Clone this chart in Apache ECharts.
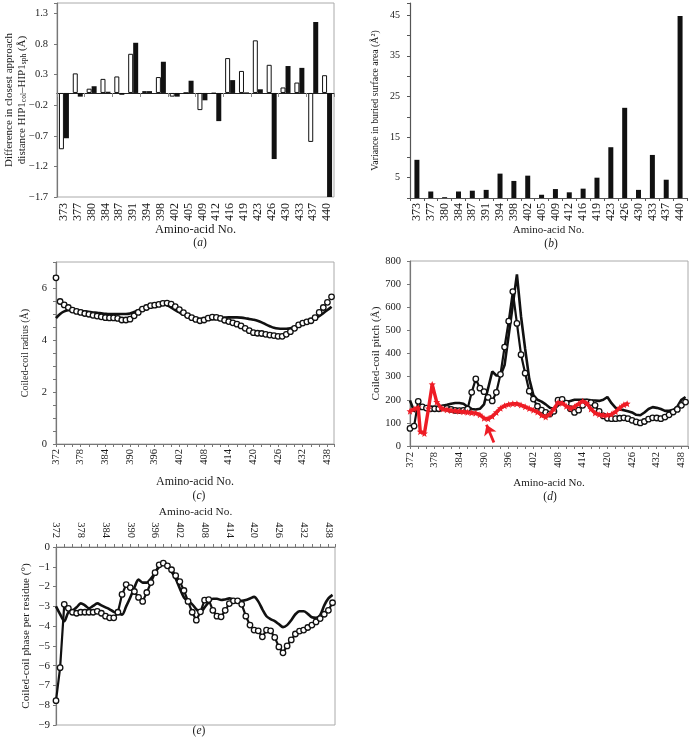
<!DOCTYPE html>
<html><head><meta charset="utf-8">
<script src="https://cdn.jsdelivr.net/npm/echarts@6/dist/echarts.min.js"></script>
<style>html,body{margin:0;padding:0;background:#fff}#c{width:693px;height:741px}</style>
</head><body><div id="c"></div>
<script>
// ---------- data ----------
const catsAB = ['373','377','380','384','387','391','394','398','402','405','409','412','416','419','423','426','430','433','437','440'];
const diffWhite = [-0.92,0.32,0.07,0.23,0.27,0.64,0.03,0.26,-0.06,0,-0.28,-0.01,0.57,0.36,0.86,0.46,0.09,0.17,-0.80,0.29];
const diffBlack = [-0.74,-0.06,0.11,0.02,-0.03,0.82,0.03,0.51,-0.06,0.20,-0.12,-0.46,0.21,0.01,0.06,-1.08,0.44,0.41,1.16,-1.70];
const variance = [9.4,1.6,0.2,1.6,1.8,2.0,6.0,4.2,5.5,0.8,2.2,1.4,2.3,5.0,12.5,22.2,2.0,10.6,4.5,44.8];

const residues = [372,373,374,375,376,377,378,379,380,381,382,383,384,385,386,387,388,389,390,391,392,393,394,395,396,397,398,399,400,401,402,403,404,405,406,407,408,409,410,411,412,413,414,415,416,417,418,419,420,421,422,423,424,425,426,427,428,429,430,431,432,433,434,435,436,437,438,439];

const radiusLine = [4.84,5.0,5.1,5.15,5.15,5.13,5.12,5.1,5.08,5.06,
  5.05,5.03,5.01,5.0,5.0,5.0,5.0,5.0,5.02,5.08,
  5.15,5.2,5.25,5.3,5.34,5.37,5.38,5.33,5.25,5.15,
  5.06,4.98,4.92,4.87,4.83,4.8,4.79,4.79,4.8,4.82,
  4.84,4.86,4.87,4.87,4.87,4.86,4.84,4.81,4.78,4.74,
  4.68,4.6,4.53,4.47,4.44,4.43,4.43,4.45,4.5,4.57,
  4.64,4.69,4.75,4.82,4.92,5.03,5.15,5.28];
const radiusCircles = [6.39,5.48,5.35,5.25,5.15,5.10,5.06,5.02,4.99,4.95,
  4.92,4.89,4.86,4.85,4.85,4.83,4.77,4.77,4.80,4.93,
  5.06,5.19,5.25,5.32,5.34,5.37,5.41,5.42,5.38,5.28,
  5.17,5.05,4.94,4.86,4.79,4.74,4.77,4.84,4.88,4.87,
  4.83,4.76,4.71,4.66,4.61,4.54,4.45,4.36,4.28,4.26,
  4.25,4.22,4.19,4.17,4.14,4.14,4.22,4.32,4.45,4.58,
  4.65,4.70,4.74,4.86,5.06,5.25,5.45,5.66];

const pitchLine = [197,150,158,165,167,168,168,170,174,178,
  183,186,186,183,170,160,158,161,180,250,
  322,305,305,350,480,610,742,560,420,290,
  220,200,192,180,165,160,175,188,190,195,
  200,200,200,200,198,197,195,200,212,185,
  165,158,155,150,145,135,133,145,160,168,
  165,160,152,152,155,170,200,212];
const pitchCircles = [76,86,193,169,164,161,161,161,165,163,
  158,154,153,154,160,232,290,250,235,210,
  195,232,310,428,540,668,530,395,315,237,
  203,172,155,145,138,150,198,202,185,161,
  145,155,176,190,188,176,150,130,120,118,
  118,120,122,118,111,104,100,106,116,122,
  121,118,125,135,147,158,176,190];
const redX = [372,373,374,374.5,375.5,376.5,377.4,378.5,379.5,
  380,381,382,383,384,385,386,387,388,389,
  390,391,392,393,394,395,396,397,398,399,
  400,401,402,403,404,405,406,407,408,409,
  410,411,412,413,414,415,416,417,418,419,
  420,421,422,423,424,424.8];
const redY = [150,160,166,62,54,162,266,190,165,
  160,157,154,152,150,148,146,144,142,135,
  120,118,128,145,163,174,180,183,183,177,
  170,162,155,147,133,125,138,160,188,185,
  172,162,170,182,194,184,160,143,136,133,
  134,137,148,165,178,183];
const arrowFrom = [392.4, 15];
const arrowTo = [390.6, 92];

const phaseLine = [-3.0,-3.4,-3.75,-3.3,-3.22,-3.05,-2.85,-2.95,-3.1,-2.98,
  -2.85,-2.95,-3.05,-3.15,-3.28,-3.35,-3.42,-3.0,-2.55,-2.05,
  -1.65,-1.8,-1.8,-1.6,-1.3,-1.0,-0.75,-0.95,-1.25,-1.6,
  -2.1,-2.55,-2.75,-2.9,-3.15,-3.3,-3.05,-2.8,-2.62,-2.62,
  -2.68,-2.65,-2.6,-2.65,-2.72,-2.72,-2.68,-2.6,-2.52,-2.75,
  -3.15,-3.5,-3.65,-3.75,-3.9,-4.05,-3.95,-3.7,-3.4,-3.25,
  -3.25,-3.38,-3.55,-3.58,-3.45,-2.95,-2.6,-2.42];
const phaseCircles = [-7.77,-6.1,-2.9,-3.1,-3.3,-3.35,-3.3,-3.3,-3.3,-3.3,
  -3.25,-3.35,-3.5,-3.58,-3.58,-3.3,-2.4,-1.9,-2.05,-2.25,
  -2.55,-2.75,-2.3,-1.8,-1.3,-0.9,-0.82,-0.95,-1.15,-1.45,
  -1.75,-2.2,-2.75,-3.3,-3.7,-3.28,-2.69,-2.66,-3.2,-3.5,
  -3.53,-3.2,-2.86,-2.72,-2.72,-2.9,-3.5,-3.95,-4.2,-4.24,
  -4.54,-4.2,-4.24,-4.57,-5.05,-5.35,-5.0,-4.7,-4.4,-4.25,
  -4.2,-4.07,-3.95,-3.79,-3.62,-3.4,-3.2,-2.82];

// ---------- style ----------
const FONT = 'Liberation Serif';
const TXT = '#1a1a1a';
const AX = '#777';
const BOX = '#aaa';
const pairs = (xs, ys) => ys.map((v, i) => [xs[i], v]);
const minus = v => (v < 0 ? '\u2212' : '') + Math.abs(v);
const ns = size => ({fontFamily: FONT, fontSize: size, color: TXT});
const tickLabel = (extra) => Object.assign({fontFamily: FONT, fontSize: 10.5, color: TXT}, extra || {});

function resAxis(gridIndex, position, nameGap, nameSize, labelMargin) {
  return {
    type: 'value', gridIndex, position, min: 372, max: 439.6, interval: 6,
    axisLine: {show: true, onZero: false, lineStyle: {color: AX, width: 1.2}},
    axisTick: {show: true, length: 3, lineStyle: {color: AX}},
    minorTick: {show: true, splitNumber: 3, length: 3, lineStyle: {color: AX}},
    splitLine: {show: false},
    axisLabel: tickLabel({rotate: 90, margin: labelMargin, showMaxLabel: false, fontSize: 10.5,
      formatter: v => ((v - 372) % 6 === 0 ? String(v) : '')}),
    name: 'Amino-acid No.', nameLocation: 'middle', nameGap, nameMoveOverlap: false, nameTextStyle: ns(nameSize)
  };
}
function valAxis(gridIndex, min, max, interval, name, nameGap, nameSize, formatter, labelSize, labelMargin, extra) {
  return Object.assign({
    type: 'value', gridIndex, min, max, interval,
    axisLine: {show: true, onZero: false, lineStyle: {color: AX, width: 1.2}},
    axisTick: {show: true, length: 3, lineStyle: {color: AX}},
    splitLine: {show: false},
    axisLabel: tickLabel({margin: labelMargin, fontSize: labelSize, formatter, showMaxLabel: true, showMinLabel: true}),
    name, nameLocation: 'middle', nameRotate: 90, nameGap, nameMoveOverlap: false, nameTextStyle: ns(nameSize)
  }, extra || {});
}
const star = 'path://M5,0L6.3,3.4L10,3.6L7.1,6L8.1,10L5,7.8L1.9,10L2.9,6L0,3.6L3.7,3.4Z';

const option = {
  animation: false,
  backgroundColor: '#fff',
  grid: [
    {left: 57, top: 3, width: 277, height: 194, show: true, borderColor: BOX, borderWidth: 1, containLabel: false, outerBoundsMode: 'none'},
    {left: 410, top: 3, width: 277, height: 195, show: false, containLabel: false, outerBoundsMode: 'none'},
    {left: 56, top: 262, width: 278, height: 182, show: true, borderColor: BOX, borderWidth: 1, containLabel: false, outerBoundsMode: 'none'},
    {left: 410, top: 261, width: 278, height: 185, show: true, borderColor: BOX, borderWidth: 1, containLabel: false, outerBoundsMode: 'none'},
    {left: 56, top: 547, width: 279, height: 178, show: true, borderColor: BOX, borderWidth: 1, containLabel: false, outerBoundsMode: 'none'}
  ],
  xAxis: [
    {type: 'category', gridIndex: 0, position: 'bottom', data: catsAB,
      axisLine: {show: false, onZero: false}, axisTick: {show: false},
      axisLabel: tickLabel({rotate: 90, margin: 6, fontSize: 12, interval: 0}),
      name: 'Amino-acid No.', nameLocation: 'middle', nameGap: 26, nameMoveOverlap: false, nameTextStyle: ns(12.5)},
    {type: 'category', gridIndex: 0, position: 'top', data: catsAB,
      axisLine: {show: true, onZero: true, lineStyle: {color: '#222', width: 1.2}},
      axisTick: {show: true, inside: true, length: 4, lineStyle: {color: '#888'}},
      axisLabel: {show: false}},
    {type: 'category', gridIndex: 1, position: 'bottom', data: catsAB,
      axisLine: {show: true, onZero: false, lineStyle: {color: '#555', width: 1.2}},
      axisTick: {show: true, length: 3, lineStyle: {color: '#555'}},
      axisLabel: tickLabel({rotate: 90, margin: 5, fontSize: 12, interval: 0}),
      name: 'Amino-acid No.', nameLocation: 'middle', nameGap: 27, nameMoveOverlap: false, nameTextStyle: ns(11)},
    resAxis(2, 'bottom', 32, 12, 5),
    resAxis(3, 'bottom', 31.5, 11, 6),
    resAxis(4, 'top', 29, 11.3, 9)
  ],
  yAxis: [
    valAxis(0, -1.7, 1.47, 0.5,
      '{n|Difference in closest approach}\n{n|distance HIP1}{s|col}{n|\u2013HIP1}{s|sph}{n| (\u00c5)}', 28.5, 11,
      v => (v > 1.4 ? '' : (v < 0 ? '\u2212' : '') + Math.abs(v).toFixed(1)), 10.5, 9,
      {nameTextStyle: {fontFamily: FONT, fontSize: 11, color: TXT, lineHeight: 13,
         rich: {n: {fontFamily: FONT, fontSize: 11, color: TXT, lineHeight: 13},
                s: {fontFamily: FONT, fontSize: 7.5, color: TXT, verticalAlign: 'bottom', lineHeight: 13}}}}),
    valAxis(1, 0, 48, 5, 'Variance in buried surface area (\u00c5\u00b2)', 30, 9.8,
      v => (v % 10 === 5 ? String(v) : ''), 10, 10,
      {axisLine: {show: true, onZero: false, lineStyle: {color: '#555', width: 1.2}},
       axisTick: {show: true, length: 3, lineStyle: {color: '#555'}}}),
    valAxis(2, 0, 7, 1, 'Coiled-coil radius (\u00c5)', 25.3, 10,
      v => (v % 2 === 0 && v < 7 ? String(v) : ''), 10.5, 9,
      {minorTick: {show: true, splitNumber: 2, length: 3, lineStyle: {color: AX}}}),
    valAxis(3, 0, 800, 100, 'Coiled-coil pitch (\u00c5)', 28.6, 11.2, v => String(v), 10.5, 9),
    valAxis(4, -9, 0, 1, 'Coiled-coil phase per residue (\u00b0)', 24.2, 11.2, v => minus(v), 11, 6)
  ],
  series: [
    {name: 'white', type: 'bar', xAxisIndex: 0, yAxisIndex: 0, data: diffWhite, barWidth: 5, barGap: '0%',
      itemStyle: {color: '#fff', borderColor: '#111', borderWidth: 1}},
    {name: 'black', type: 'bar', xAxisIndex: 0, yAxisIndex: 0, data: diffBlack, barWidth: 5, barGap: '0%',
      itemStyle: {color: '#111'}},
    {name: 'variance', type: 'bar', xAxisIndex: 2, yAxisIndex: 1, data: variance, barWidth: 5,
      itemStyle: {color: '#111'}},
    {name: 'radiusLine', type: 'line', xAxisIndex: 3, yAxisIndex: 2, data: pairs(residues, radiusLine),
      showSymbol: false, smooth: 0.4, lineStyle: {color: '#111', width: 2.6}, z: 2},
    {name: 'radiusCircles', type: 'scatter', xAxisIndex: 3, yAxisIndex: 2, data: pairs(residues, radiusCircles),
      symbol: 'circle', symbolSize: 5.5, itemStyle: {color: '#fff', borderColor: '#111', borderWidth: 1.3, opacity: 1}, z: 3},
    {name: 'pitchLine', type: 'line', xAxisIndex: 4, yAxisIndex: 3, data: pairs(residues, pitchLine),
      showSymbol: false, lineStyle: {color: '#111', width: 2.6}, z: 2},
    {name: 'pitchCircles', type: 'line', xAxisIndex: 4, yAxisIndex: 3, data: pairs(residues, pitchCircles),
      symbol: 'circle', symbolSize: 5.5, showAllSymbol: true, lineStyle: {color: '#111', width: 2.2},
      itemStyle: {color: '#fff', borderColor: '#111', borderWidth: 1.3}, z: 3},
    {name: 'pitchRed', type: 'line', xAxisIndex: 4, yAxisIndex: 3, data: pairs(redX, redY),
      symbol: star, symbolSize: 7, showAllSymbol: true, lineStyle: {color: '#ee1c25', width: 3.4},
      itemStyle: {color: '#ee1c25'}, z: 4,
      markLine: {silent: true, symbol: ['none', 'arrow'], symbolSize: 10, label: {show: false},
        lineStyle: {color: '#ee1c25', width: 2.8, type: 'solid'},
        data: [[{coord: arrowFrom}, {coord: arrowTo}]]}},
    {name: 'phaseLine', type: 'line', xAxisIndex: 5, yAxisIndex: 4, data: pairs(residues, phaseLine),
      showSymbol: false, smooth: 0.3, lineStyle: {color: '#111', width: 2.6}, z: 2},
    {name: 'phaseCircles', type: 'line', xAxisIndex: 5, yAxisIndex: 4, data: pairs(residues, phaseCircles),
      symbol: 'circle', symbolSize: 5.5, showAllSymbol: true, lineStyle: {color: '#111', width: 2.2},
      itemStyle: {color: '#fff', borderColor: '#111', borderWidth: 1.3}, z: 3}
  ],
  graphic: [
    ['a', 200, 243], ['b', 551, 244], ['c', 199, 496], ['d', 550, 497], ['e', 199, 731]
  ].map(([t, x, y]) => ({
    type: 'text', x, y, silent: true,
    style: {text: '({i|' + t + '})', fontFamily: FONT, fontSize: 11.5, fill: TXT, align: 'center', verticalAlign: 'middle',
      rich: {i: {fontFamily: FONT, fontSize: 11.5, fontStyle: 'italic', fill: TXT}}}
  }))
};

const chart = echarts.init(document.getElementById('c'), null, {renderer: 'canvas'});
chart.setOption(option);
</script>
</body></html>
